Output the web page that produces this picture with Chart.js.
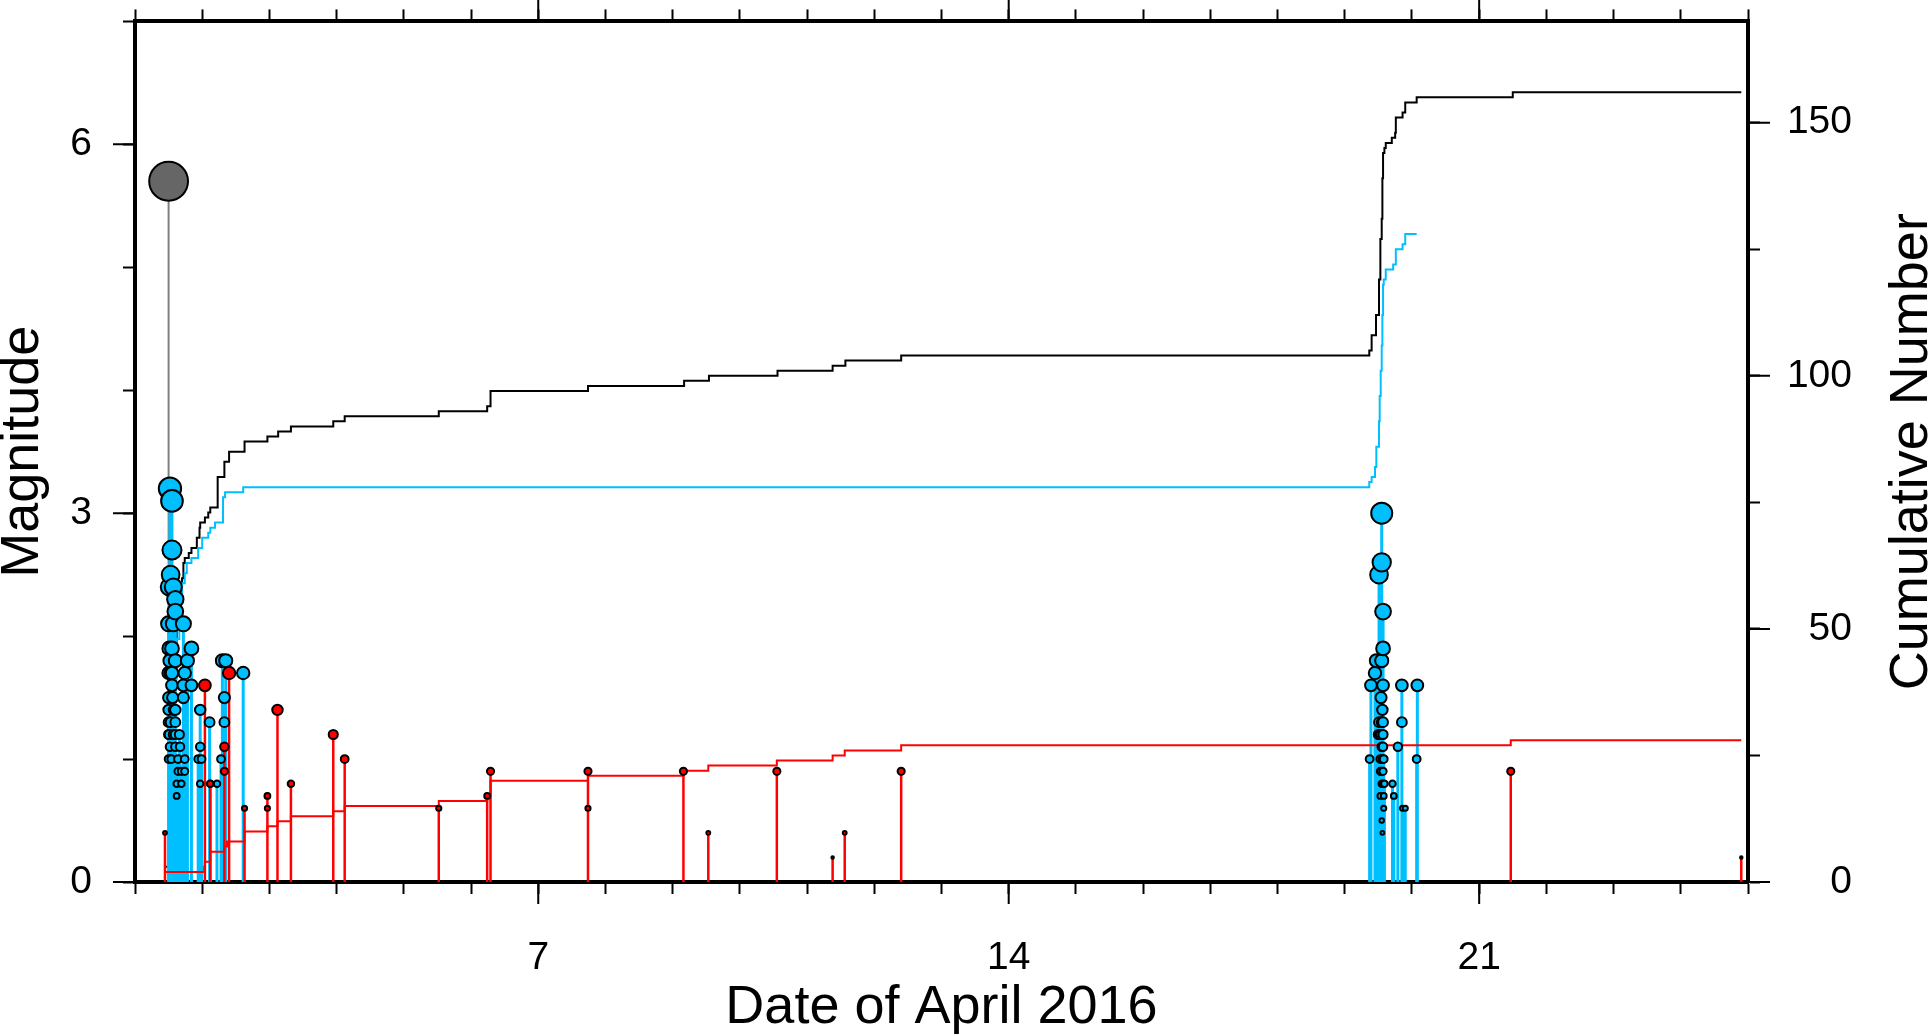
<!DOCTYPE html>
<html>
<head>
<meta charset="utf-8">
<script src="https://cdn.jsdelivr.net/npm/chart.js@4.4.1/dist/chart.umd.min.js"></script>
<style>
  html, body { margin: 0; padding: 0; background: #fff; }
  #wrap { width: 1928px; height: 1035px; }
</style>
</head>
<body>
<div id="wrap"><canvas id="quakeChart" width="1928" height="1035"></canvas></div>
<script>
// tick labels
const xTickLabels = [7, 14, 21];
const magTickLabels = [0, 3, 6];
const cumTickLabels = [0, 50, 100, 150];

// mainshock (day of April, magnitude)
const mainT = [1.50];
const mainM = [5.7];

// cluster events (cyan)
const cyanT = [
  1.50, 1.50, 1.50, 1.50, 1.50, 1.50, 1.50, 1.51, 1.51, 1.51, 1.52, 1.52, 1.52, 1.53, 1.53, 1.53,
  1.54, 1.55, 1.55, 1.55, 1.55, 1.55, 1.56, 1.57, 1.57, 1.57, 1.58, 1.60, 1.60, 1.60, 1.60, 1.60,
  1.60, 1.60, 1.62, 1.62, 1.64, 1.64, 1.66, 1.67, 1.69, 1.69, 1.72, 1.72, 1.72, 1.74, 1.74, 1.74,
  1.78, 1.84, 1.84, 1.94, 1.97, 1.97, 1.97, 1.99, 2.11, 2.12, 2.22, 2.28, 2.30, 2.33, 2.33, 2.35,
  2.61,
  19.37, 19.39, 19.45, 19.47, 19.50, 19.51, 19.51, 19.52, 19.53, 19.53, 19.53, 19.54, 19.54, 19.54,
  19.55, 19.55, 19.55, 19.55, 19.55, 19.55, 19.55, 19.56, 19.56, 19.56, 19.57, 19.57, 19.57, 19.57,
  19.57, 19.57, 19.57, 19.57, 19.58, 19.58, 19.58, 19.59, 19.71, 19.73, 19.79, 19.85, 19.85, 19.86,
  19.90, 20.07, 20.08
];
const cyanM = [
  2.1, 1.7, 1.5, 1.4, 1.3, 1.2, 1.0, 2.4, 1.9, 1.2, 3.2, 1.8, 1.1, 2.5, 1.7, 1.3,
  1.0, 3.1, 2.7, 1.9, 1.7, 1.6, 1.5, 2.4, 2.1, 1.2, 1.4, 2.3, 2.2, 1.8, 1.4, 1.3,
  1.2, 1.1, 0.8, 0.7, 1.0, 0.9, 1.2, 1.1, 0.9, 0.8, 2.1, 1.6, 1.5, 1.7, 1.0, 0.9,
  1.8, 1.9, 1.6, 1.0, 1.4, 1.1, 0.8, 1.0, 1.3, 0.8, 0.8, 1.0, 1.8, 1.5, 1.3, 1.8,
  1.7,
  1.0, 1.6, 1.7, 1.8, 1.2, 2.5, 1.3, 1.2, 0.7, 1.0, 0.9, 1.5, 1.2, 0.9,
  3.0, 2.6, 1.8, 1.3, 1.1, 0.8, 0.5, 0.4, 1.0, 1.4, 2.2, 1.9, 1.6, 1.3,
  1.2, 1.1, 0.9, 0.8, 0.7, 0.6, 1.0, 0.8, 0.8, 0.7, 1.1, 1.6, 1.3, 0.6,
  0.6, 1.0, 1.6
];

// other events (red)
const redT = [1.446, 2.04, 2.12, 2.33, 2.33, 2.40, 2.63, 2.97, 2.97, 3.12, 3.32, 3.95, 4.12,
  5.52, 6.24, 6.29, 7.74, 7.74, 9.16, 9.53, 10.55, 11.38, 11.56, 12.40, 21.47, 24.90];
const redM = [0.4, 1.6, 0.8, 1.1, 0.9, 1.7, 0.6, 0.7, 0.6, 1.4, 0.8, 1.2, 1.0,
  0.6, 0.7, 0.9, 0.9, 0.6, 0.9, 0.4, 0.9, 0.2, 0.4, 0.9, 0.9, 0.2];

// cumulative numbers (step points: day, count)
const allCumT = [1.446, 1.50, 1.51, 1.52, 1.53, 1.55, 1.58, 1.62, 1.66, 1.70, 1.72, 1.74, 1.80, 1.84,
  1.92, 1.96, 1.97, 2.04, 2.09, 2.12, 2.23, 2.33, 2.40, 2.63, 2.97, 3.13, 3.32, 3.95, 4.12, 5.52,
  6.24, 6.29, 7.74, 9.17, 9.54, 10.56, 11.38, 11.57, 12.40, 19.365, 19.40, 19.465, 19.51, 19.53,
  19.55, 19.56, 19.57, 19.59, 19.61, 19.70, 19.75, 19.76, 19.86, 19.90, 20.07, 21.50, 24.90];
const allCumN = [1, 3, 8, 12, 16, 24, 33, 42, 50, 57, 60, 63, 64, 65,
  66, 68, 70, 71, 72, 73, 74, 80, 83, 85, 87, 88, 89, 90, 91, 92,
  93, 94, 97, 98, 99, 100, 101, 102, 103, 104, 105, 108, 112, 119,
  127, 131, 139, 144, 145, 146, 147, 148, 151, 152, 154, 155, 156];

const cyanCumT = [1.50, 1.51, 1.52, 1.53, 1.55, 1.58, 1.62, 1.66, 1.70, 1.74, 1.77, 1.84, 1.94, 2.00,
  2.09, 2.12, 2.19, 2.31, 2.34, 2.61, 19.365, 19.40, 19.45, 19.47, 19.51, 19.52, 19.535, 19.55, 19.56,
  19.57, 19.58, 19.61, 19.72, 19.76, 19.86, 19.90, 20.07];
const cyanCumN = [1, 6, 11, 15, 22, 31, 40, 48, 55, 59, 61, 63, 64, 66,
  68, 69, 70, 71, 76, 77, 78, 79, 80, 82, 86, 91, 96, 101, 106,
  112, 118, 119, 121, 122, 125, 126, 128];

const redCumT = [1.446, 2.03, 2.04, 2.12, 2.33, 2.37, 2.63, 2.97, 3.12, 3.32, 3.95, 4.12, 5.52, 6.24,
  6.29, 7.74, 9.16, 9.53, 10.55, 11.38, 11.56, 12.40, 21.47, 24.90];
const redCumN = [1, 2, 3, 4, 6, 7, 8, 10, 11, 12, 13, 14, 15, 16,
  17, 20, 21, 22, 23, 24, 25, 26, 27, 28];

const CYAN = '#00BFFF';
const RED = '#FF0000';
const FONT = '"Liberation Sans", Arial, Helvetica, sans-serif';

const stemPoints = (ts, ms) => ts.flatMap((t, i) => [{x: t, y: 0}, {x: t, y: ms[i]}, {x: t, y: null}]);
const dotPoints = (ts, ms) => ts.map((t, i) => ({x: t, y: ms[i]}));
const cumPoints = (ts, ns) => ts.map((t, i) => ({x: t, y: ns[i]}));
const radiusFor = ctx => (ctx.raw && ctx.raw.y != null) ? 3.3 * ctx.raw.y + 0.6 : 0;

const stemSet = (ts, ms, color, order, width) => ({
  data: stemPoints(ts, ms), yAxisID: 'y', borderColor: color, borderWidth: width,
  pointRadius: 0, spanGaps: false, order
});
const dotSet = (ts, ms, fill, order) => ({
  data: dotPoints(ts, ms), yAxisID: 'y', showLine: false, pointRadius: radiusFor,
  backgroundColor: fill, borderColor: '#000', borderWidth: 2, order
});
const cumSet = (ts, ns, color, order) => ({
  data: cumPoints(ts, ns), yAxisID: 'yR', borderColor: color, borderWidth: 2,
  pointRadius: 0, stepped: 'after', order
});

// extra: long major ticks and right-hand title
const axisExtras = {
  id: 'axisExtras',
  afterDraw(chart) {
    const { ctx, chartArea, scales } = chart;
    ctx.save();
    ctx.strokeStyle = '#000';
    ctx.lineWidth = 2;
    ctx.beginPath();
    xTickLabels.forEach(d => {
      const px = scales.x.getPixelForValue(d);
      ctx.moveTo(px, chartArea.bottom); ctx.lineTo(px, chartArea.bottom + 22);
      ctx.moveTo(px, chartArea.top); ctx.lineTo(px, chartArea.top - 22);
    });
    magTickLabels.forEach(m => {
      const py = scales.y.getPixelForValue(m);
      ctx.moveTo(chartArea.left, py); ctx.lineTo(chartArea.left - 22, py);
    });
    cumTickLabels.forEach(n => {
      const py = scales.yR.getPixelForValue(n);
      ctx.moveTo(chartArea.right, py); ctx.lineTo(chartArea.right + 22, py);
    });
    ctx.stroke();

    ctx.translate(1912, (chartArea.top + chartArea.bottom) / 2);
    ctx.rotate(-Math.PI / 2);
    ctx.font = '54px ' + FONT;
    ctx.fillStyle = '#000';
    ctx.textAlign = 'center';
    ctx.textBaseline = 'middle';
    ctx.fillText('Cumulative Number', 0, 0);
    ctx.restore();
  }
};

const frame = { display: true, width: 4, color: '#000' };
const tickGrid = { display: true, drawOnChartArea: false, drawTicks: true, tickLength: 12, tickWidth: 2, tickColor: '#000' };
const tickFont = { family: FONT, size: 39 };
const fitY = w => s => { s.width = w; s.paddingTop = 0; s.paddingBottom = 0; };

new Chart(document.getElementById('quakeChart'), {
  type: 'line',
  data: {
    datasets: [
      dotSet(redT, redM, RED, 0),
      dotSet(cyanT, cyanM, CYAN, 1),
      dotSet(mainT, mainM, '#666666', 2),
      cumSet(redCumT, redCumN, RED, 3),
      stemSet(redT, redM, RED, 4, 2.5),
      cumSet(cyanCumT, cyanCumN, CYAN, 5),
      stemSet(cyanT, cyanM, CYAN, 6, 3),
      stemSet(mainT, mainM, '#808080', 7, 2),
      cumSet(allCumT, allCumN, '#000', 8)
    ]
  },
  options: {
    responsive: false,
    devicePixelRatio: 1,
    animation: false,
    events: [],
    layout: { padding: { left: 0, right: 76, top: 0, bottom: 0 } },
    plugins: { legend: { display: false }, tooltip: { enabled: false } },
    scales: {
      x: {
        type: 'linear', position: 'bottom', min: 1, max: 25,
        afterFit: s => { s.height = 153; s.paddingLeft = 0; s.paddingRight = 0; },
        border: frame, grid: tickGrid,
        ticks: {
          stepSize: 1, autoSkip: false, maxRotation: 0, padding: 41, color: '#000', font: tickFont,
          callback: v => xTickLabels.includes(v) ? String(v) : ''
        },
        title: { display: true, text: 'Date of April 2016', color: '#000',
          font: { family: FONT, size: 54, lineHeight: 1 }, padding: { top: 0, bottom: 0 } }
      },
      xTop: {
        type: 'linear', position: 'top', min: 1, max: 25,
        afterFit: s => { s.height = 21; s.paddingLeft = 0; s.paddingRight = 0; },
        border: frame, grid: tickGrid,
        ticks: { stepSize: 1, autoSkip: false, display: false }
      },
      y: {
        type: 'linear', position: 'left', min: 0, max: 7,
        afterFit: fitY(135),
        border: frame, grid: tickGrid,
        ticks: { stepSize: 1, padding: 31, color: '#000', font: tickFont,
          callback: v => magTickLabels.includes(v) ? String(v) : '' },
        title: { display: true, text: 'Magnitude', color: '#000',
          font: { family: FONT, size: 54, lineHeight: 0.8 }, padding: { top: 2, bottom: 0 } }
      },
      yR: {
        type: 'linear', position: 'right', min: 0, max: 170,
        afterFit: fitY(104),
        border: frame, grid: tickGrid,
        ticks: { stepSize: 25, includeBounds: false, crossAlign: 'far', color: '#000', font: tickFont,
          callback: v => cumTickLabels.includes(v) ? String(v) : '' }
      }
    }
  },
  plugins: [axisExtras]
});
</script>
</body>
</html>
